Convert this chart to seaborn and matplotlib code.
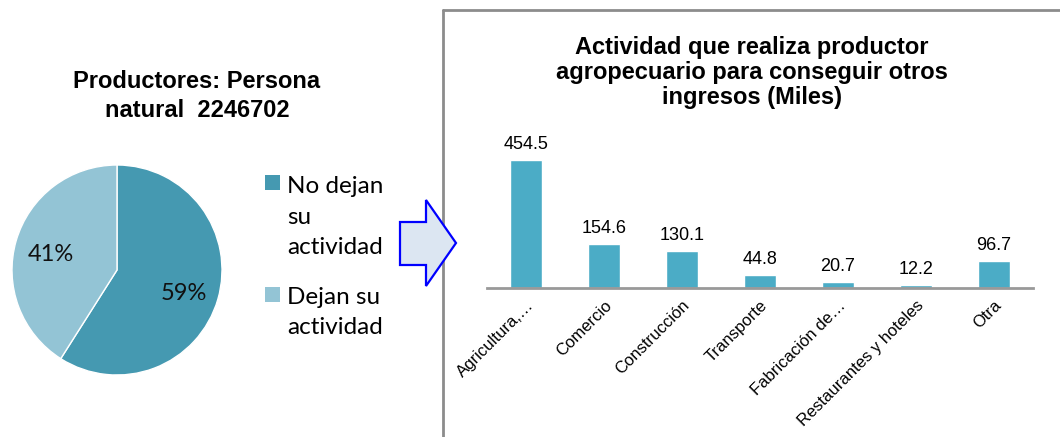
import matplotlib
matplotlib.use('Agg')
import matplotlib.pyplot as plt
import seaborn as sns
import pandas as pd
from matplotlib.patches import Polygon, Rectangle
from matplotlib.lines import Line2D

# pie data
pie_labels = ['No dejan\nsu\nactividad', 'Dejan su\nactividad']
pie_values = [59, 41]
pie_colors = ['#4599B1', '#93C4D5']

# bar data
actividades = ['Agricultura,…', 'Comercio', 'Construcción', 'Transporte',
               'Fabricación de…', 'Restaurantes y hoteles', 'Otra']
miles = [454.5, 154.6, 130.1, 44.8, 20.7, 12.2, 96.7]
bar_color = '#4BACC6'

df = pd.DataFrame({'actividad': actividades, 'miles': miles})

sns.set_style('white')
plt.rcParams['font.family'] = ['Liberation Sans', 'DejaVu Sans']
plt.rcParams['text.color'] = 'black'
plt.rcParams['xtick.color'] = 'black'

W, H = 1060, 437
fig = plt.figure(figsize=(W / 100, H / 100), dpi=100)


def fx(px):
    return px / W


def fy(py):
    return 1 - py / H


# --- pie ---
ax_pie = fig.add_axes([fx(12), fy(375), 210 / W, 210 / H])
wedges, _, autotexts = ax_pie.pie(pie_values, colors=pie_colors, startangle=90,
                                  counterclock=False, autopct='%1.0f%%',
                                  pctdistance=0.66,
                                  textprops={'fontsize': 17, 'family': 'Lato',
                                             'color': '#111111'})
for t in autotexts:
    t.set_y(t.get_position()[1] - 0.035)
ax_pie.set_xlim(-1, 1)
ax_pie.set_ylim(-1, 1)
ax_pie.set_aspect('equal')

fig.text(fx(197), fy(70), 'Productores: Persona\nnatural  2246702',
         ha='center', va='top', fontsize=17, fontweight='bold',
         linespacing=1.35)

# legend drawn by hand: square next to the first line of each label
square_y = [190, 302]   # bottom of each square, px
last_base = [254, 334]  # baseline of the last text line, px
for lab, col, sq, base in zip(pie_labels, pie_colors, square_y, last_base):
    fig.patches.append(Rectangle((fx(265), fy(sq)), 15 / W, 15 / H,
                                 transform=fig.transFigure, facecolor=col,
                                 edgecolor='none'))
    fig.text(fx(287), fy(base), lab, ha='left', va='baseline',
             family='Lato', fontsize=17.5, linespacing=1.55)

# --- arrow ---
pts = [(400, 222), (426, 222), (426, 200), (456, 243), (426, 286),
       (426, 265), (400, 265)]
arrow = Polygon([(fx(x), fy(y)) for x, y in pts], closed=True,
                transform=fig.transFigure, facecolor='#DCE6F2',
                edgecolor='#0000FF', linewidth=1.6, zorder=5)
fig.patches.append(arrow)

# --- frame around right chart ---
fig.add_artist(Line2D([fx(443), 1], [fy(10), fy(10)], color='#8C8C8C',
                      linewidth=2, transform=fig.transFigure))
fig.add_artist(Line2D([fx(443), fx(443)], [fy(10), 0], color='#8C8C8C',
                      linewidth=2, transform=fig.transFigure))

# --- bars ---
ax_bar = fig.add_axes([fx(487), fy(288), 546 / W, (288 - 130) / H])
sns.barplot(data=df, x='actividad', y='miles', color=bar_color,
            saturation=1, width=0.4, ax=ax_bar)
ax_bar.set_ylim(0, 561)
ax_bar.set_xlim(-0.5, len(actividades) - 0.5)
for i, v in enumerate(miles):
    ax_bar.text(i, v + 25, f'{v:.1f}', ha='center', va='bottom', fontsize=13)
ax_bar.set_xlabel('')
ax_bar.set_ylabel('')
ax_bar.set_yticks([])
for s in ['top', 'right', 'left']:
    ax_bar.spines[s].set_visible(False)
ax_bar.spines['bottom'].set_color('#999999')
ax_bar.spines['bottom'].set_linewidth(2)
ax_bar.tick_params(axis='x', length=0, pad=7, labelcolor='black')
ax_bar.set_xticks(range(len(actividades)))
ax_bar.set_xticklabels(actividades, rotation=45, ha='right',
                       rotation_mode='anchor', fontsize=12)

fig.text(fx(752), fy(36), 'Actividad que realiza productor\n'
         'agropecuario para conseguir otros\ningresos (Miles)',
         ha='center', va='top', fontsize=17, fontweight='bold',
         linespacing=1.12)

fig.savefig('out.png', dpi=100)
